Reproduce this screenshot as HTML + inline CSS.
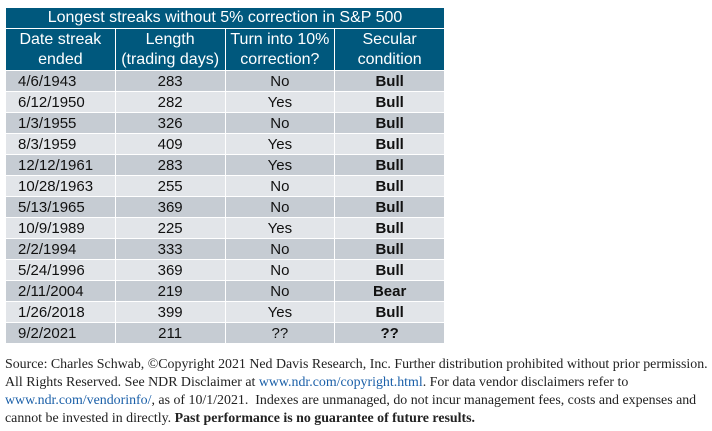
<!DOCTYPE html>
<html><head><style>
body{margin:0;width:712px;height:431px;background:#fff;overflow:hidden;font-family:"Liberation Sans",sans-serif;}
table{position:absolute;left:5px;top:7px;border-collapse:collapse;width:440px;table-layout:fixed;}
td{border:1px solid #fff;font-size:15px;text-align:center;height:20px;padding:0;color:#111;}
.t td{background:#00587d;color:#fff;font-size:16px;height:20px;}
.h td{background:#00587d;color:#fff;font-size:16px;height:41px;line-height:20px;}
tr.o td{background:#c6ccd3}
tr.e td{background:#e2e5e9}
td.l{text-align:left;padding-left:12px}
tr.o td:last-child,tr.e td:last-child{font-weight:bold}
.f{position:absolute;left:5px;top:356px;width:706px;font-family:"Liberation Serif",serif;font-size:13.9px;line-height:18px;color:#222;}
.f a{color:#1a5fa8;text-decoration:none}
</style></head><body>
<table>
<tr class="t"><td colspan="4">Longest streaks without 5% correction in S&amp;P 500</td></tr>
<tr class="h"><td>Date streak<br>ended</td><td>Length<br>(trading days)</td><td>Turn into 10%<br>correction?</td><td>Secular<br>condition</td></tr>
<tr class="o"><td class="l">4/6/1943</td><td>283</td><td>No</td><td>Bull</td></tr>
<tr class="e"><td class="l">6/12/1950</td><td>282</td><td>Yes</td><td>Bull</td></tr>
<tr class="o"><td class="l">1/3/1955</td><td>326</td><td>No</td><td>Bull</td></tr>
<tr class="e"><td class="l">8/3/1959</td><td>409</td><td>Yes</td><td>Bull</td></tr>
<tr class="o"><td class="l">12/12/1961</td><td>283</td><td>Yes</td><td>Bull</td></tr>
<tr class="e"><td class="l">10/28/1963</td><td>255</td><td>No</td><td>Bull</td></tr>
<tr class="o"><td class="l">5/13/1965</td><td>369</td><td>No</td><td>Bull</td></tr>
<tr class="e"><td class="l">10/9/1989</td><td>225</td><td>Yes</td><td>Bull</td></tr>
<tr class="o"><td class="l">2/2/1994</td><td>333</td><td>No</td><td>Bull</td></tr>
<tr class="e"><td class="l">5/24/1996</td><td>369</td><td>No</td><td>Bull</td></tr>
<tr class="o"><td class="l">2/11/2004</td><td>219</td><td>No</td><td>Bear</td></tr>
<tr class="e"><td class="l">1/26/2018</td><td>399</td><td>Yes</td><td>Bull</td></tr>
<tr class="o"><td class="l">9/2/2021</td><td>211</td><td>??</td><td>??</td></tr>
</table>
<div class="f">Source: Charles Schwab, ©Copyright 2021 Ned Davis Research, Inc. Further distribution prohibited without prior permission.<br>All Rights Reserved. See NDR Disclaimer at <a>www.ndr.com/copyright.html</a>. For data vendor disclaimers refer to<br><a>www.ndr.com/vendorinfo/</a>, as of 10/1/2021.&nbsp; Indexes are unmanaged, do not incur management fees, costs and expenses and<br>cannot be invested in directly. <b>Past performance is no guarantee of future results.</b></div>
</body></html>
